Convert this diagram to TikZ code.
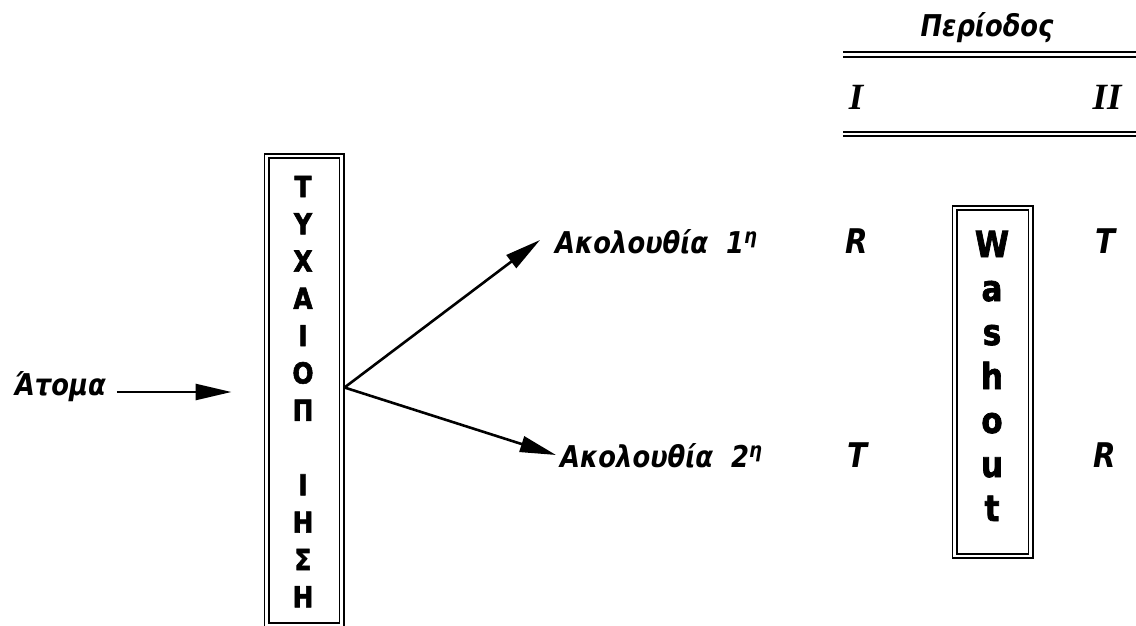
\documentclass[tikz,border=0pt]{standalone}
\usepackage{fontspec}
\setmainfont{DejaVu Sans}
\newfontfamily\comic[FakeStretch=0.86,BoldFeatures={FakeBold=2}]{DejaVu Sans}
\newfontfamily\romfont[BoldFeatures={FakeBold=1.5}]{Liberation Serif}
\usetikzlibrary{arrows.meta,positioning}

\tikzset{
  lbl/.style={font=\fontsize{30}{32}\selectfont\comic\bfseries\itshape,inner sep=0pt,anchor=base},
  cell/.style={font=\fontsize{34}{36}\selectfont\comic\bfseries\itshape,inner sep=0pt,anchor=base},
  roman/.style={font=\fontsize{37}{40}\selectfont\romfont\bfseries\itshape,inner sep=0pt,anchor=base},
  boxchar/.style={font=\fontsize{29}{30}\selectfont\comic\bfseries,inner sep=0pt,anchor=base},
  washchar/.style={font=\fontsize{36}{38}\selectfont\comic\bfseries,inner sep=0pt,anchor=base},
  dblbox/.style={draw=black,double,double distance=2.4pt,line width=1.8pt,inner sep=0pt,outer sep=3pt},
  dblline/.style={draw=black,double,double distance=2.6pt,line width=2pt},
  arr/.style={-{Triangle[length=36pt,width=16pt]},line width=2.6pt}
}

\begin{document}
\begin{tikzpicture}[x=1pt,y=-1pt]
\useasboundingbox (0,0) rectangle (1136,626);

% header
\node[lbl] (per) at (987,37) {Περίοδος};
\draw[dblline] (843,54.5) -- (1140,54.5);
\node[roman] (p1) at (856,110) {I};
\node[roman] (p2) at (1107,110) {II};
\draw[dblline] (843,134) -- (1140,134);

% randomisation box
\node[dblbox,minimum width=75pt,minimum height=469pt] (rand) at (304,390.5) {};
\foreach \c [count=\i from 0] in {Τ,Υ,Χ,Α,Ι,Ο,Π,{},Ι,Η,Σ,Η}
  \node[boxchar] (r\i) at (303,{197+37.3*\i}) {\c};

% washout box
\node[dblbox,minimum width=76pt,minimum height=348pt] (wash) at (992.5,382) {};
\foreach \c [count=\i from 0] in {W,a,s,h,o,u,t}
  \node[washchar] (w\i) at (992,{257+44*\i}) {\c};

% subjects and sequences
\node[lbl] (atom) at (60,395) {Άτομα};
\node[lbl,anchor=base west] (seqA) at (555,253) {Ακολουθία\hspace{0.6em}1\textsuperscript{η}};
\node[lbl,anchor=base west] (seqB) at (560,467) {Ακολουθία\hspace{0.6em}2\textsuperscript{η}};
\node[cell] (a1) at (857,253) {R};
\node[cell] (a2) at (1105,253) {T};
\node[cell] (b1) at (857,467) {T};
\node[cell] (b2) at (1105,467) {R};

\coordinate (tipA) at (540,240);
\coordinate (tipB) at (556,455);

\draw[arr,shorten <=11pt,shorten >=32pt] ([yshift=3pt]atom.base east) -- ([yshift=3pt]atom.base east -| rand.west);
\draw[arr] ([yshift=3pt]rand.east) -- (tipA);
\draw[arr] ([yshift=3pt]rand.east) -- (tipB);
\end{tikzpicture}
\end{document}
